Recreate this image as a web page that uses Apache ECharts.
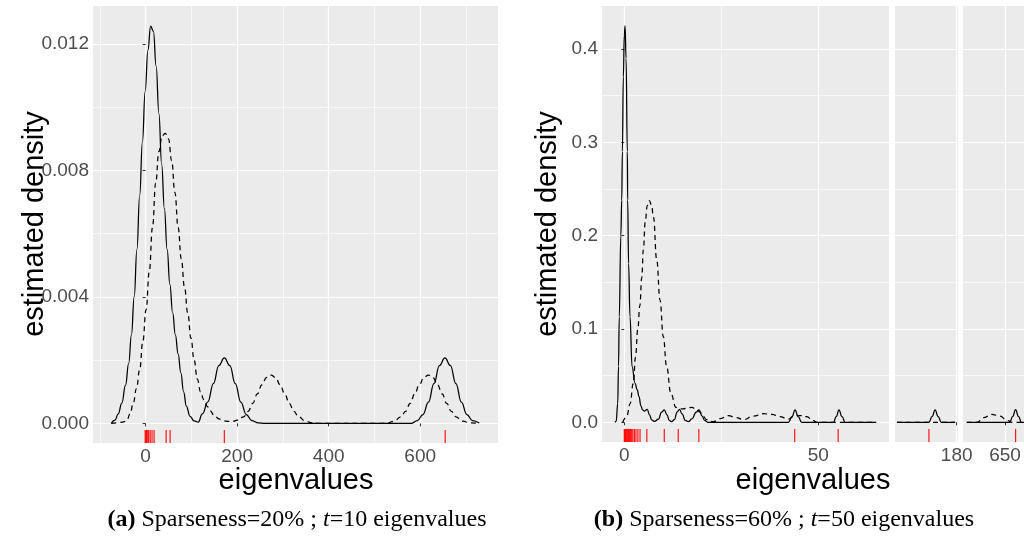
<!DOCTYPE html>
<html>
<head>
<meta charset="utf-8">
<title>estimated density of eigenvalues</title>
<script src="https://cdn.jsdelivr.net/npm/echarts@6/dist/echarts.min.js"></script>
<style>
  html, body { margin: 0; padding: 0; background: #ffffff; }
  #chart { width: 1024px; height: 540px; }
</style>
</head>
<body>
<div id="chart"></div>
<script>
// ---- panel (a): sparseness 20%, t = 10 ----
var solidA = [
  [-75, 0], [-67, 0.0001], [-60, 0.0003], [-52, 0.00064], [-44, 0.0012], [-37, 0.0019],
  [-31, 0.0028], [-25, 0.004], [-19, 0.0055], [-13, 0.0072], [-7, 0.0089], [-1, 0.0105],
  [5, 0.0118], [11, 0.01256], [17, 0.0124], [23, 0.0113], [29, 0.0098], [35, 0.0082],
  [41, 0.0068], [47, 0.0055], [53, 0.0044], [59, 0.0035], [65, 0.0028], [71, 0.0022],
  [77, 0.0016], [83, 0.001], [89, 0.00055], [97, 0.00022], [106, 0.00008], [115, 0.00004],
  [124, 0.0003], [136, 0.00068], [148, 0.00126], [160, 0.00183], [172, 0.00207],
  [184, 0.00183], [196, 0.00126], [208, 0.00067], [220, 0.00028], [232, 0.00009],
  [246, 0.00002], [260, 0], [580, 0], [594, 0.00009], [606, 0.00028], [618, 0.00067],
  [630, 0.00126], [642, 0.00183], [654, 0.00207], [666, 0.00183], [678, 0.00126],
  [690, 0.00067], [702, 0.00028], [714, 0.00009], [729, 0.00001]
];
var dashedA = [
  [-75, 0], [-60, 0.00002], [-48, 0.00005], [-41, 0.0001], [-34, 0.0003], [-27, 0.00064],
  [-20, 0.0011], [-13, 0.0017], [-6, 0.0026], [1, 0.0036], [8, 0.0048], [15, 0.0062],
  [22, 0.0076], [29, 0.0086], [36, 0.0091], [43, 0.00917], [50, 0.009], [57, 0.0083],
  [64, 0.0073], [71, 0.0062], [78, 0.0052], [85, 0.0043], [92, 0.0035], [99, 0.0027],
  [106, 0.002], [113, 0.0014], [120, 0.001], [127, 0.00075], [134, 0.00055], [141, 0.0004],
  [150, 0.00025], [160, 0.00014], [170, 0.00008], [181, 0.00006], [190, 0.00006],
  [200, 0.0001], [214, 0.00021], [224, 0.00038], [234, 0.00063], [244, 0.00093],
  [254, 0.00122], [264, 0.00145], [274, 0.00153], [284, 0.00145], [294, 0.00122],
  [304, 0.00093], [314, 0.00063], [324, 0.00038], [334, 0.00021], [349, 0.00007],
  [364, 0.00002], [380, 0], [520, 0], [528, 0.00002], [543, 0.00007], [558, 0.00021],
  [568, 0.00038], [578, 0.00063], [588, 0.00093], [598, 0.00122], [608, 0.00145],
  [618, 0.00153], [628, 0.00145], [638, 0.00122], [648, 0.00093], [658, 0.00063],
  [668, 0.00038], [678, 0.00021], [693, 0.00007], [708, 0.00002], [729, 0]
];
var rugA = [-1, 0.5, 2, 3.5, 6.5, 10, 14, 18.5, 44.8, 53.5, 172, 654.6];
var xTicksA = [0, 200, 400, 600];
var xMinorA = [-100, 100, 300, 500, 700];
var yTicksA = [0, 0.004, 0.008, 0.012];
var yMinorA = [0.002, 0.006, 0.010];

// ---- panel (b): sparseness 60%, t = 50, x axis cut in three pieces ----
var solidB1 = [
  [-2.4, 0], [-2.1, 0.001], [-1.7, 0.02], [-1.5, 0.06], [-1.3, 0.113], [-0.9, 0.2],
  [-0.67, 0.238], [-0.5, 0.29], [-0.25, 0.37], [0, 0.415], [0.2, 0.4247], [0.45, 0.39],
  [0.78, 0.29], [0.87, 0.238], [1.1, 0.17], [1.47, 0.113], [2.0, 0.0596], [2.76, 0.0418],
  [3.3, 0.035], [3.8, 0.0274], [4.25, 0.018], [4.7, 0.0132], [5.2, 0.012], [5.9, 0.0139],
  [6.5, 0.008], [7.05, 0.0025], [7.8, 0.001], [8.8, 0.0035], [9.6, 0.011], [10.3, 0.0132],
  [11.0, 0.008], [11.6, 0.002], [12.2, 0.0006], [12.9, 0.003], [13.6, 0.011], [14.2, 0.0139],
  [14.9, 0.009], [15.7, 0.002], [16.5, 0.0006], [17.5, 0.004], [18.5, 0.011], [19.25, 0.0132],
  [20.0, 0.007], [20.7, 0.002], [21.5, 0], [42.3, 0], [43.2, 0.006], [44.0, 0.0132],
  [44.8, 0.006], [45.7, 0], [53.9, 0], [54.6, 0.006], [55.3, 0.0132], [56.1, 0.006],
  [56.9, 0], [64.9, 0]
];
var dashedB1 = [
  [-0.4, 0], [0.6, 0.006], [1.5, 0.02], [2.3, 0.0418], [2.9, 0.07], [3.45, 0.099],
  [4.0, 0.125], [4.5, 0.155], [4.9, 0.185], [5.4, 0.215], [5.9, 0.232], [6.45, 0.2375],
  [7.0, 0.233], [7.5, 0.22], [8.35, 0.174], [9.2, 0.131], [10.05, 0.0917], [10.9, 0.0596],
  [12.0, 0.031], [13.3, 0.016], [14.2, 0.0145], [15.2, 0.0145], [16.3, 0.0155],
  [17.4, 0.016], [18.5, 0.014], [19.5, 0.011], [20.4, 0.006], [21.2, 0.0028],
  [22.9, 0.0006], [24.8, 0.004], [26.8, 0.0071], [28.8, 0.005], [30.7, 0.0028],
  [33.2, 0.0065], [35.8, 0.0092], [38.0, 0.0085], [40.1, 0.006], [42.2, 0.0035],
  [44.0, 0.007], [45.5, 0.0072], [47.0, 0.006], [48.7, 0.0017], [49.6, 0], [64.9, 0]
];
var rugB1 = [0, 0.15, 0.3, 0.5, 0.7, 0.9, 1.1, 1.3, 1.6, 1.9, 2.2, 2.6, 3.0, 3.5, 4.05,
  5.8, 10.3, 13.9, 19.2, 43.9, 55.1];
var solidB2 = [[164.5, 0], [172.8, 0], [173.6, 0.006], [174.4, 0.0132], [175.2, 0.006], [176.0, 0], [179.6, 0]];
var dashedB2 = [[164.5, 0], [179.6, 0]];
var rugB2 = [172.8];
var solidB3 = [[640.9, 0], [651.1, 0], [651.8, 0.006], [652.5, 0.0135], [653.2, 0.006], [653.9, 0], [654.5, 0]];
var dashedB3 = [[640.9, 0], [643.3, 0], [645.0, 0.005], [646.8, 0.0086], [648.8, 0.0065], [650.5, 0.002], [651.6, 0], [654.5, 0]];
var rugB3 = [652.5];
var xTicksB1 = [0, 50];
var xMinorB1 = [25];
var xTicksB2 = [180];
var xTicksB3 = [650];
var yTicksB = [0, 0.1, 0.2, 0.3, 0.4];
var yMinorB = [0.05, 0.15, 0.25, 0.35];

var LABEL = '#4d4d4d';
var FONT = 'Liberation Sans';

function xAxes(gi, min, max, major, minor) {
  return [
    {
      type: 'value', gridIndex: gi, min: min, max: max, position: 'bottom',
      axisLine: { show: false },
      axisTick: { show: true, length: 3, lineStyle: { color: '#333333' }, customValues: major },
      axisLabel: { customValues: major, color: LABEL, fontSize: 19, fontFamily: FONT, margin: 4 },
      splitLine: { show: true, lineStyle: { color: '#ffffff', width: 1.2 } }
    },
    {
      type: 'value', gridIndex: gi, min: min, max: max, position: 'top',
      axisLine: { show: false },
      axisTick: { show: false, customValues: minor },
      axisLabel: { show: false },
      splitLine: { show: minor.length > 0, lineStyle: { color: '#ffffff', width: 0.6 } }
    }
  ];
}

function yAxes(gi, min, max, major, minor, digits, labels) {
  return [
    {
      type: 'value', gridIndex: gi, min: min, max: max, position: 'left',
      axisLine: { show: false },
      axisTick: { show: labels, length: 3, lineStyle: { color: '#333333' }, customValues: major },
      axisLabel: {
        show: labels, customValues: major, color: LABEL, fontSize: 19, fontFamily: FONT, margin: 4,
        formatter: function (v) { return v.toFixed(digits); }
      },
      splitLine: { show: true, lineStyle: { color: '#ffffff', width: 1.2 } }
    },
    {
      type: 'value', gridIndex: gi, min: min, max: max, position: 'right',
      axisLine: { show: false },
      axisTick: { show: false, customValues: minor },
      axisLabel: { show: false },
      splitLine: { show: true, lineStyle: { color: '#ffffff', width: 0.6 } }
    }
  ];
}

function curve(gi, data, dashed) {
  return {
    type: 'line', xAxisIndex: gi * 2, yAxisIndex: gi * 2, data: data,
    showSymbol: false, smooth: 0.45, smoothMonotone: 'x', silent: true, z: 4,
    lineStyle: { color: '#000000', width: 1.25, type: dashed ? [5, 4] : 'solid' }
  };
}

// geom_rug: short ticks along the bottom edge, 3% of the panel height
function rug(gi, values) {
  return {
    type: 'custom', xAxisIndex: gi * 2, yAxisIndex: gi * 2, silent: true, z: 3,
    data: values.map(function (v) { return [v, 0]; }),
    renderItem: function (params, api) {
      var cs = params.coordSys;
      var p = api.coord([api.value(0), 0]);
      var bottom = cs.y + cs.height;
      return {
        type: 'line',
        shape: { x1: p[0], y1: bottom - cs.height * 0.03, x2: p[0], y2: bottom },
        style: { stroke: 'rgba(255,0,0,0.9)', lineWidth: 1.2 }
      };
    }
  };
}

var gridStyle = { show: true, backgroundColor: '#ebebeb', borderWidth: 0 };
var chart = echarts.init(document.getElementById('chart'));

var option = {
  backgroundColor: '#ffffff',
  animation: false,
  grid: [
    Object.assign({ left: 93, top: 6, width: 405, height: 437 }, gridStyle),
    Object.assign({ left: 602, top: 6, width: 287, height: 436 }, gridStyle),
    Object.assign({ left: 895, top: 6, width: 63, height: 436 }, gridStyle),
    Object.assign({ left: 963, top: 6, width: 61, height: 436 }, gridStyle)
  ],
  xAxis: [].concat(
    xAxes(0, -115, 770, xTicksA, xMinorA),
    xAxes(1, -5.75, 68.2, xTicksB1, xMinorB1),
    xAxes(2, 164, 180.34, xTicksB2, []),
    xAxes(3, 640, 654.5, xTicksB3, [])
  ),
  yAxis: [].concat(
    yAxes(0, -0.00062, 0.0132, yTicksA, yMinorA, 3, true),
    yAxes(1, -0.0211, 0.446, yTicksB, yMinorB, 1, true),
    yAxes(2, -0.0211, 0.446, yTicksB, yMinorB, 1, false),
    yAxes(3, -0.0211, 0.446, yTicksB, yMinorB, 1, false)
  ),
  series: [
    curve(0, dashedA, true), curve(0, solidA, false), rug(0, rugA),
    curve(1, dashedB1, true), curve(1, solidB1, false), rug(1, rugB1),
    curve(2, dashedB2, true), curve(2, solidB2, false), rug(2, rugB2),
    curve(3, dashedB3, true), curve(3, solidB3, false), rug(3, rugB3)
  ],
  graphic: [
    { type: 'text', style: { text: 'estimated density', x: 35, y: 224, align: 'center', verticalAlign: 'middle', fontSize: 29, fontFamily: FONT, fill: '#000' }, rotation: Math.PI / 2, originX: 35, originY: 224 },
    { type: 'text', style: { text: 'estimated density', x: 548, y: 224, align: 'center', verticalAlign: 'middle', fontSize: 29, fontFamily: FONT, fill: '#000' }, rotation: Math.PI / 2, originX: 548, originY: 224 },
    { type: 'text', style: { text: 'eigenvalues', x: 296, y: 481, align: 'center', verticalAlign: 'middle', fontSize: 29, fontFamily: FONT, fill: '#000' } },
    { type: 'text', style: { text: 'eigenvalues', x: 813, y: 481, align: 'center', verticalAlign: 'middle', fontSize: 29, fontFamily: FONT, fill: '#000' } },
    {
      type: 'text',
      style: {
        text: '{b|(a)} Sparseness=20% ; {i|t}=10 eigenvalues', x: 297, y: 520,
        align: 'center', verticalAlign: 'middle', fontSize: 24, fontFamily: 'Liberation Serif', fill: '#000',
        rich: {
          b: { fontWeight: 'bold', fontSize: 24, fontFamily: 'Liberation Serif' },
          i: { fontStyle: 'italic', fontSize: 24, fontFamily: 'Liberation Serif' }
        }
      }
    },
    {
      type: 'text',
      style: {
        text: '{b|(b)} Sparseness=60% ; {i|t}=50 eigenvalues', x: 784, y: 520,
        align: 'center', verticalAlign: 'middle', fontSize: 24, fontFamily: 'Liberation Serif', fill: '#000',
        rich: {
          b: { fontWeight: 'bold', fontSize: 24, fontFamily: 'Liberation Serif' },
          i: { fontStyle: 'italic', fontSize: 24, fontFamily: 'Liberation Serif' }
        }
      }
    }
  ]
};

chart.setOption(option);
</script>
</body>
</html>
